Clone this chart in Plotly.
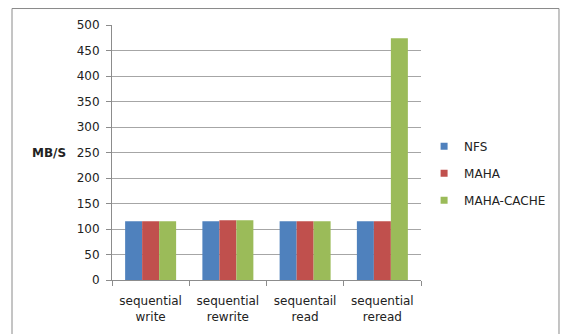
import plotly.graph_objects as go

categories = ["sequential<br>write", "sequential<br>rewrite", "sequentail<br>read", "sequential<br>reread"]
nfs = [115, 115, 115, 115]
maha = [115, 117, 115, 115]
maha_cache = [115, 117, 115, 474]
series_names = ["NFS", "MAHA", "MAHA-CACHE"]
colors = ["#4F81BD", "#C0504D", "#9BBB59"]
y_ticks = [0, 50, 100, 150, 200, 250, 300, 350, 400, 450, 500]

fig = go.Figure()
for i, (name, vals) in enumerate(zip(series_names, [nfs, maha, maha_cache])):
    fig.add_trace(go.Bar(x=categories, y=vals, name=name, marker=dict(color=colors[i], line=dict(width=0)),
                         showlegend=False))
    fig.add_trace(go.Scatter(x=[None], y=[None], mode="markers", name=name, legendgroup=name,
                             marker=dict(symbol="square", size=7, color=colors[i]), showlegend=True))

font = "DejaVu Sans"
fig.update_layout(
    width=563, height=334,
    margin=dict(l=112, r=142, t=24.5, b=54, autoexpand=False),
    paper_bgcolor="white", plot_bgcolor="white",
    barmode="group", bargap=0.34, bargroupgap=0,
    font=dict(family=font, size=12, color="#222222"),
    legend=dict(x=1.01, y=0.419, xanchor="left", yanchor="middle", font=dict(size=12, color="#222222"),
                traceorder="grouped", tracegroupgap=8, itemwidth=30, bgcolor="rgba(0,0,0,0)"),
    xaxis=dict(type="category", tickson="boundaries", ticks="outside", ticklen=5, tickcolor="#8c8c8c",
               showline=True, linecolor="#8c8c8c", linewidth=1, showgrid=False, tickfont=dict(size=12),
               ticklabelstandoff=10),
    yaxis=dict(range=[0, 500], tickvals=y_ticks, ticks="outside", ticklen=5, tickcolor="#8c8c8c",
               showline=True, linecolor="#8c8c8c", linewidth=1, showgrid=True, gridcolor="#a6a6a6",
               gridwidth=1, zeroline=False, tickfont=dict(size=12), ticklabelstandoff=4),
    shapes=[dict(type="rect", xref="paper", yref="paper", x0=-0.3236, x1=1.4466, y0=-0.25, y1=1.0646,
                 line=dict(color="#8a8a8a", width=1), fillcolor="rgba(0,0,0,0)", layer="below")],
    annotations=[dict(text="<b>MB/S</b>", xref="paper", yref="y", x=-0.1424, y=250, xanchor="right",
                      yanchor="middle", showarrow=False, font=dict(size=12, color="#222222"))],
)

fig.write_html("out.html")
